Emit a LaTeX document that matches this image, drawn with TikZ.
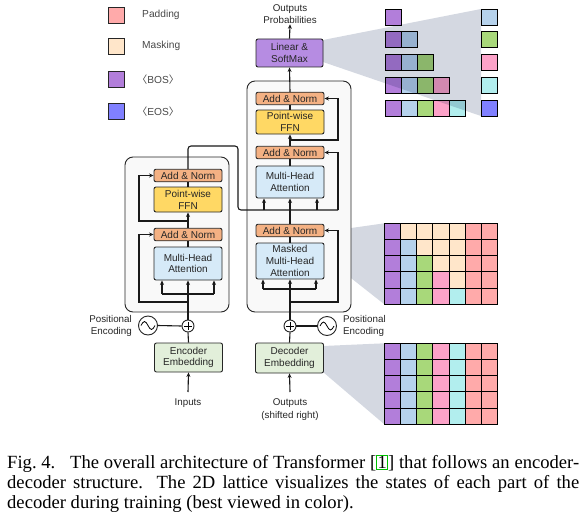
\documentclass[tikz,border=0pt]{standalone}
\usepackage{fontspec}
\setmainfont{Liberation Serif}
\setsansfont{Liberation Sans}
\newfontfamily\cjkfont{Noto Sans CJK SC}
\usetikzlibrary{arrows.meta}
\definecolor{cpad}{RGB}{255,170,170}
\definecolor{cmask}{RGB}{255,230,202}
\definecolor{cbos}{RGB}{178,126,218}
\definecolor{ceos}{RGB}{128,128,255}
\definecolor{clb}{RGB}{182,210,236}
\definecolor{cgr}{RGB}{168,216,122}
\definecolor{cpk}{RGB}{252,162,200}
\definecolor{ccy}{RGB}{178,238,238}
\definecolor{cAN}{RGB}{244,177,131}
\definecolor{cFFN}{RGB}{255,216,100}
\definecolor{cMHA}{RGB}{214,234,248}
\definecolor{cLIN}{RGB}{182,140,226}
\definecolor{cEMB}{RGB}{226,239,218}
\definecolor{cgrey}{RGB}{212,216,225}
\definecolor{cframe}{RGB}{249,249,249}
\colorlet{col0}{cbos}
\colorlet{col1}{clb}
\colorlet{col2}{cgr}
\colorlet{col3}{cpk}
\colorlet{col4}{ccy}
\newcommand\lnkbox[1]{{\fboxsep=0.6pt\fboxrule=0.7pt\color{green!75!black}\fbox{\color{black}#1}}}
\begin{document}
\begin{tikzpicture}[x=1pt,y=-1pt,
  blk/.style={draw=black!85, line width=0.9pt, rounded corners=2pt, minimum width=68pt, inner sep=0pt, align=center, font=\sffamily\fontsize{10}{11.8}\selectfont, text=black!85},
  an/.style={blk, fill=cAN, minimum height=12.5pt},
  ffn/.style={blk, fill=cFFN, minimum height=25pt},
  mha/.style={blk, fill=cMHA},
  emb/.style={blk, fill=cEMB, minimum height=29pt},
  frame/.style={draw=black!85, line width=0.9pt, fill=cframe, rounded corners=8pt, inner sep=0pt},
  lbl/.style={inner sep=0pt, align=center, font=\sffamily\fontsize{9.8}{12.2}\selectfont, text=black!85},
  leg/.style={inner sep=0pt, anchor=west, font=\sffamily\fontsize{10.2}{12}\selectfont, text=black!72},
  legsq/.style={draw=black!85, line width=0.8pt, minimum size=16pt, inner sep=0pt},
  cell/.style={draw=black, line width=0.9pt},
  conn/.style={line width=1.1pt, draw=black!90},
  arr/.style={conn, -{Stealth[length=4.5pt,width=4pt]}},
  oplus/.style={circle, draw=black!85, line width=0.9pt, fill=white, minimum size=12pt, inner sep=0pt},
  sine/.style={circle, draw=black!85, line width=0.9pt, fill=white, minimum size=19pt, inner sep=0pt},
  shade/.style={fill=cgrey}
]
\useasboundingbox (0,0) rectangle (588,516);

% ---------- legend ----------
\node[legsq, fill=cpad]  (lgp) at (116,15) {};
\node[legsq, fill=cmask] (lgm) at (116,46) {};
\node[legsq, fill=cbos]  (lgb) at (116,79.5) {};
\node[legsq, fill=ceos]  (lge) at (116,111.5) {};
\node[leg] (lgpt) at (142,15) {Padding};
\node[leg] (lgmt) at (142,46) {Masking};
\node[leg] (lgbt) at (137,79.5) {{\cjkfont 〈}BOS{\cjkfont 〉}};
\node[leg] (lget) at (137,111.5) {{\cjkfont 〈}EOS{\cjkfont 〉}};

% ---------- grey shades (behind) ----------
\fill[shade] (323,232) -- (384.3,223.3) -- (384.3,304.3) -- (323,256) -- cycle;
\fill[shade] (323,346) -- (384.3,343.3) -- (384.3,424.3) -- (323,372) -- cycle;

% ---------- frames ----------
\node[frame, minimum width=104pt, minimum height=155pt] (encF) at (177,234.5) {};
\node[frame, minimum width=104pt, minimum height=231pt] (decF) at (299,196.5) {};

% ---------- encoder ----------
\node[an]  (eAN2) at (188,175.5) {Add \& Norm};
\node[ffn] (eFFN) at (188,199.5) {Point-wise\\FFN};
\node[an]  (eAN1) at (188,234.5) {Add \& Norm};
\node[mha, minimum height=33pt] (eMHA) at (188,263.5) {Multi-Head\\Attention};
\node[oplus] (eplus) at (188,326) {};
\node[sine] (epos) at (148,325.5) {};
\node[emb] (eEmb) at (188.5,357.5) {Encoder\\Embedding};
\node[lbl] (inp) at (188,403) {Inputs};
\node[lbl, align=right, anchor=east] (epost) at (132,326) {Positional\\Encoding};

% ---------- decoder ----------
\node[an]  (dAN3) at (290,98.5) {Add \& Norm};
\node[ffn, minimum height=24pt] (dFFN) at (290,122) {Point-wise\\FFN};
\node[an]  (dAN2) at (290,152.5) {Add \& Norm};
\node[mha, minimum height=32pt] (dMHA) at (290,182) {Multi-Head\\Attention};
\node[an]  (dAN1) at (290,230.5) {Add \& Norm};
\node[mha, minimum height=36pt] (dMMHA) at (290,261) {Masked\\Multi-Head\\Attention};
\node[oplus] (dplus) at (290,326) {};
\node[sine] (dpos) at (327,326) {};
\node[emb, minimum height=30pt] (dEmb) at (289.5,358) {Decoder\\Embedding};
\node[lbl] (outs) at (290,409.5) {Outputs\\(shifted right)};
\node[lbl, align=left, anchor=west] (dpost) at (343,326) {Positional\\Encoding};
\node[blk, fill=cLIN, minimum width=67pt, minimum height=28pt] (lin) at (289.5,53) {Linear \&\\SoftMax};
\node[lbl] (prob) at (290,14.5) {Outputs\\Probabilities};

% plus and sine glyphs
\foreach \p in {eplus,dplus}
  \draw[line width=0.8pt, shift={(\p.center)}] (-3.6,0) -- (3.6,0) (0,-3.6) -- (0,3.6);
\foreach \p in {epos,dpos}
  \draw[line width=0.8pt, shift={(\p.center)}] (-7,0) sin (-3.5,-4) cos (0,0) sin (3.5,4) cos (7,0);

% ---------- encoder connectors ----------
\coordinate (ej0) at (188,302);
\coordinate (eh1) at (162,294);
\coordinate (eh2) at (214,294);
\coordinate (ej2) at (188,221);
\coordinate (inpS) at (188,392);
\draw[conn] (eEmb.north) -- (eplus.south);
\draw[conn] (epos.east) -- (eplus.west);
\draw[arr] (eplus.north) -- (eMHA.south);
\draw[conn] (eh1) -- (eh2);
\draw[arr] (eh1) -- (eh1 |- eMHA.south);
\draw[arr] (eh2) -- (eh2 |- eMHA.south);
\draw[arr] (ej0) -- (139,302) |- (eAN1.west);
\draw[conn] (eMHA.north) -- (eAN1.south);
\draw[arr] (eAN1.north) -- (eFFN.south);
\draw[arr] (ej2) -- (139,221) |- (eAN2.west);
\draw[conn] (eFFN.north) -- (eAN2.south);
\draw[arr] (inpS) -- (eEmb.south);

% ---------- encoder to decoder ----------
\coordinate (xk) at (264,210);
\coordinate (xv) at (290,210);
\coordinate (xq) at (317,210);
\coordinate (xr) at (338,210);
\draw[conn, rounded corners=3pt] (eAN2.north) -- (188,146) -- (238,146) -- (238,210) -- (xr);
\draw[arr] (xk) -- (xk |- dMHA.south);
\draw[arr] (xv) -- (dMHA.south);
\draw[arr] (xq) -- (xq |- dMHA.south);
\draw[conn] (dAN1.north) -- (xv);
\draw[arr] (xr) |- (dAN2.east);

% ---------- decoder connectors ----------
\coordinate (dj0) at (290,302);
\coordinate (dh1) at (263,289);
\coordinate (dh2) at (316,289);
\coordinate (dj2) at (290,140);
\coordinate (outS) at (290,392);
\draw[conn] (dEmb.north) -- (dplus.south);
\draw[conn] (dpos.west) -- (dplus.east);
\draw[arr] (dplus.north) -- (dMMHA.south);
\draw[conn] (dh1) -- (dh2);
\draw[arr] (dh1) -- (dh1 |- dMMHA.south);
\draw[arr] (dh2) -- (dh2 |- dMMHA.south);
\draw[arr] (dj0) -- (338,302) |- (dAN1.east);
\draw[conn] (dMMHA.north) -- (dAN1.south);
\draw[conn] (dMHA.north) -- (dAN2.south);
\draw[arr] (dAN2.north) -- (dFFN.south);
\draw[arr] (dj2) -- (338,140) |- (dAN3.east);
\draw[conn] (dFFN.north) -- (dAN3.south);
\draw[arr] (dAN3.north) -- (lin.south);
\draw[arr] (lin.north) -- (prob.south);
\draw[arr] (outS) -- (dEmb.south);

% ---------- top lattice ----------
\foreach \r in {0,...,4}{
  \foreach \c in {0,...,\r}{
    \filldraw[cell, fill=col\c] (385+16*\c, 9+22.8*\r) rectangle ++(16,16);
  }
}
\foreach \r/\cc in {0/clb,1/cgr,2/cpk,3/ccy,4/ceos}
  \filldraw[cell, fill=\cc] (481, 9+22.8*\r) rectangle ++(16,16);
\fill[shade, blend mode=multiply] (323,40) -- (481,9) -- (481,116) -- (323,62) -- cycle;

% ---------- middle lattice ----------
\foreach \r in {0,...,4}{
  \foreach \c in {0,...,6}{
    \ifnum\c>4 \def\cc{cpad}\else\ifnum\c>\r \def\cc{cmask}\else\def\cc{col\c}\fi\fi
    \filldraw[cell, fill=\cc] (384.3+16.2*\c, 223.3+16.2*\r) rectangle ++(16.2,16.2);
  }
}
% ---------- bottom lattice ----------
\foreach \r in {0,...,4}{
  \foreach \c in {0,...,6}{
    \ifnum\c>4 \def\cc{cpad}\else\def\cc{col\c}\fi
    \filldraw[cell, fill=\cc] (384.3+16.2*\c, 343.3+16.2*\r) rectangle ++(16.2,16.2);
  }
}

% ---------- caption ----------
\node[anchor=north west, inner sep=0pt, align=left, font=\rmfamily\fontsize{18.6}{20}\selectfont] (cap) at (7,455)
 {\makebox[572pt][s]{Fig.~4.\hspace{0.45em} The overall architecture of Transformer [\lnkbox{1}] that follows an encoder-}\\
  \makebox[572pt][s]{decoder structure. The 2D lattice visualizes the states of each part of the}\\
  decoder during training (best viewed in color).};
\end{tikzpicture}
\end{document}
